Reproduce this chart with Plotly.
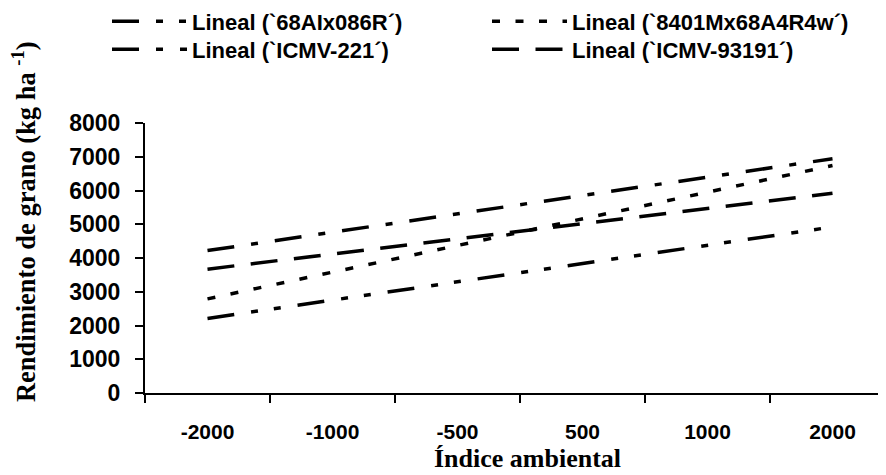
import plotly.graph_objects as go

categories = ["-2000", "-1000", "-500", "500", "1000", "2000"]
y_68AIx086R = [2210, 2750, 3290, 3840, 4380, 4920]
y_8401Mx68A4R4w = [2790, 3580, 4370, 5160, 5950, 6740]
y_ICMV221 = [4220, 4765, 5310, 5855, 6400, 6940]
y_ICMV93191 = [3670, 4120, 4570, 5020, 5470, 5920]
names = ["Lineal (`68AIx086R´)", "Lineal (`8401Mx68A4R4w´)",
         "Lineal (`ICMV-221´)", "Lineal (`ICMV-93191´)"]

# page body has an 8px margin, so the figure is 8px smaller than the window
OFF = 8
W, H = 886 - OFF, 475 - OFF
L, R = 145 - OFF, 0
T = 122.7 - OFF
B = H - (393.3 - OFF)
pw = W - L - R
ph = H - T - B

def px_x(p):
    return (p - OFF - L) / pw

def px_y(p):
    return (H - B - (p - OFF)) / ph

styles = [
    dict(dash="27px,17px,7px,16px,7px,17px", legend="legend"),
    dict(dash="8px,15.5px", legend="legend"),
    dict(dash="27px,17px,7px,17px", legend="legend2"),
    dict(dash="27px,16.5px", legend="legend2"),
]
series = [y_68AIx086R, y_8401Mx68A4R4w, y_ICMV221, y_ICMV93191]

fig = go.Figure()
for nm, ys, st in zip(names, series, styles):
    fig.add_trace(go.Scatter(
        x=categories, y=ys, mode="lines", name=nm,
        line=dict(color="black", width=3.5, dash=st["dash"]),
        legend=st["legend"],
    ))

legend_common = dict(
    orientation="h", xanchor="left", yanchor="middle",
    bgcolor="rgba(0,0,0,0)", borderwidth=0,
    font=dict(family="Liberation Sans, Arial", size=22, color="black", weight="bold"),
    itemwidth=75, entrywidth=290, entrywidthmode="pixels",
)

fig.update_layout(
    width=W, height=H,
    margin=dict(l=L, r=R, t=T, b=B, pad=0, autoexpand=False),
    plot_bgcolor="white", paper_bgcolor="white",
    showlegend=True,
    legend=dict(x=px_x(107), y=px_y(21), **legend_common),
    legend2=dict(x=px_x(107), y=px_y(49), **legend_common),
    xaxis=dict(
        type="category", range=[-0.5, -0.5 + pw / 125.0],
        showline=True, linecolor="black", linewidth=2,
        ticks="outside", tickson="boundaries", ticklen=8, tickwidth=2, tickcolor="black",
        showgrid=False, zeroline=False, automargin=False,
        tickfont=dict(family="Liberation Sans, Arial", size=21, color="black", weight="bold"),
        ticklabelstandoff=19,
    ),
    yaxis=dict(
        range=[0, 8000], tickvals=[0, 1000, 2000, 3000, 4000, 5000, 6000, 7000, 8000],
        showline=True, linecolor="black", linewidth=2,
        ticks="outside", ticklen=8, tickwidth=2, tickcolor="black",
        showgrid=False, zeroline=False, automargin=False,
        tickfont=dict(family="Liberation Sans, Arial", size=23, color="black", weight="bold"),
        ticklabelstandoff=10,
    ),
    annotations=[
        dict(text="Índice ambiental", xref="paper", yref="paper",
             x=px_x(527), y=px_y(459), xanchor="center", yanchor="middle",
             showarrow=False,
             font=dict(family="Liberation Serif, Times New Roman", size=26, color="black", weight="bold")),
        dict(text="Rendimiento de grano (kg ha <sup>-1</sup>)", xref="paper", yref="paper",
             x=px_x(24), y=px_y(222), xanchor="center", yanchor="middle",
             textangle=-90, showarrow=False,
             font=dict(family="Liberation Serif, Times New Roman", size=26.5, color="black", weight="bold")),
    ],
)

fig.write_html("out.html")
